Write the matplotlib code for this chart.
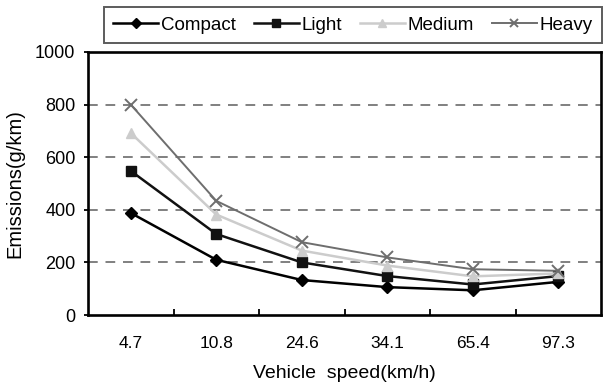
import matplotlib
matplotlib.use('Agg')
import matplotlib.pyplot as plt

speeds = ['4.7', '10.8', '24.6', '34.1', '65.4', '97.3']
compact = [388, 210, 133, 106, 94, 126]
light = [548, 308, 200, 148, 116, 148]
medium = [692, 382, 245, 188, 147, 158]
heavy = [800, 434, 277, 219, 174, 168]
yticks = [0, 200, 400, 600, 800, 1000]

plt.rcParams['font.family'] = ['Liberation Sans', 'DejaVu Sans']

fig = plt.figure(figsize=(6.05, 3.82), dpi=100)
ax = fig.add_axes([88/605, 1-315/382, 513/605, 263/382])

x = list(range(len(speeds)))
ax.plot(x, compact, color='black', lw=1.8, marker='D', ms=6, label='Compact')
ax.plot(x, light, color='#111111', lw=1.8, marker='s', ms=7, label='Light')
ax.plot(x, medium, color='#cccccc', lw=1.8, marker='^', ms=7, label='Medium')
ax.plot(x, heavy, color='#6e6e6e', lw=1.4, marker='x', ms=8, mew=1.4, label='Heavy')

for v in yticks[1:-1]:
    ax.axhline(v, color='#808080', lw=1.4, ls=(0, (5, 4)), zorder=0)

ax.set_xlim(-0.5, len(speeds) - 0.5)
ax.set_ylim(0, 1000)
ax.set_yticks(yticks)
ax.set_yticklabels([str(v) for v in yticks], fontsize=13)
ax.set_xticks(x)
ax.set_xticklabels(speeds, fontsize=12.5)
ax.tick_params(axis='x', length=0, pad=15)
ax.set_xticks([i + 0.5 for i in x[:-1]], minor=True)
ax.tick_params(axis='x', which='minor', direction='in', length=4, width=1.3)
ax.tick_params(axis='y', direction='out', length=3, width=1.3, pad=6)
for s in ax.spines.values():
    s.set_linewidth(1.9)

ax.set_xlabel('Vehicle  speed(km/h)', fontsize=14, labelpad=10)
ax.set_ylabel('Emissions(g/km)', fontsize=14.5, labelpad=8)

leg = fig.legend(loc='lower right', bbox_to_anchor=(602/605, 1-43/382), ncol=4,
                 fontsize=13.5, frameon=True, fancybox=False, edgecolor='#333333',
                 handlelength=2.4, handletextpad=0.15, columnspacing=0.95,
                 markerscale=0.8, borderpad=0.5, borderaxespad=0)
leg.get_frame().set_linewidth(1.4)

fig.savefig('out.png', dpi=100)
